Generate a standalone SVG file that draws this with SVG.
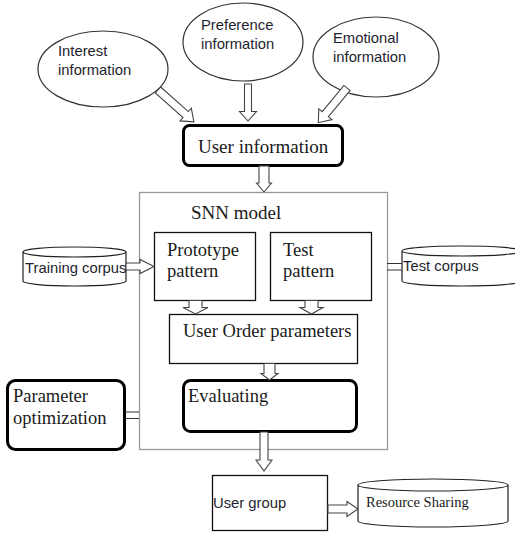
<svg xmlns="http://www.w3.org/2000/svg" width="515" height="534" viewBox="0 0 515 534">
<style>
.bg{fill:#fff}
.ell{fill:#fff;stroke:#333;stroke-width:1.2}
.box{fill:#fff;stroke:#111;stroke-width:1.3}
.thick{fill:#fff;stroke:#000;stroke-width:3}
.frame{fill:none;stroke:#999;stroke-width:1.3}
.cyl{fill:#fff;stroke:#222;stroke-width:1.2}
.arr{fill:#fff;stroke:#444;stroke-width:1.1}
.dl{stroke:#333;stroke-width:1.2;fill:none}
.sans{font-family:"Liberation Sans",Arial,sans-serif;font-size:14.8px;fill:#1e1e2e}
.serif{font-family:"Liberation Serif","Times New Roman",serif;font-size:18.5px;fill:#1a1a1a}
.big{font-size:19px}
</style>
<rect class="bg" x="0" y="0" width="515" height="534"/>

<g id="snn-frame">
<rect class="frame" x="139.5" y="192.5" width="248" height="257"/>
<text class="serif big" x="191" y="219">SNN model</text>
</g>

<g id="interest">
<ellipse class="ell" cx="103" cy="69" rx="65" ry="38"/>
<text class="sans" x="58" y="56">Interest</text>
<text class="sans" x="58" y="75">information</text>
</g>
<g id="preference">
<ellipse class="ell" cx="243" cy="42" rx="60" ry="39"/>
<text class="sans" x="201" y="30">Preference</text>
<text class="sans" x="201" y="49">information</text>
</g>
<g id="emotional">
<ellipse class="ell" cx="376" cy="57" rx="63" ry="40"/>
<text class="sans" x="333" y="43">Emotional</text>
<text class="sans" x="333" y="62">information</text>
</g>

<g id="user-information">
<rect class="thick" x="183.5" y="125.5" width="159" height="40" rx="6"/>
<text class="serif big" x="198" y="153">User information</text>
</g>

<g id="prototype-pattern">
<rect class="box" x="154.5" y="232.5" width="101" height="68"/>
<text class="serif" x="167" y="256">Prototype</text>
<text class="serif" x="167" y="277">pattern</text>
</g>
<g id="test-pattern">
<rect class="box" x="270.5" y="232.5" width="101" height="68"/>
<text class="serif" x="283" y="256">Test</text>
<text class="serif" x="283" y="277">pattern</text>
</g>
<g id="user-order-parameters">
<rect class="box" x="169.5" y="314.5" width="188" height="49"/>
<text class="serif" x="183" y="337">User Order parameters</text>
</g>
<g id="evaluating">
<rect class="thick" x="183.5" y="380.5" width="173" height="51" rx="7"/>
<text class="serif" x="188" y="402">Evaluating</text>
</g>
<g id="parameter-optimization">
<rect class="thick" x="7.5" y="380.5" width="117" height="69" rx="8"/>
<text class="serif" x="13" y="402">Parameter</text>
<text class="serif" x="13" y="424">optimization</text>
</g>

<g id="training-corpus">
<path class="cyl" d="M23,252 A51.5,5 0 0 1 126,252 L126,281 A51.5,5 0 0 1 23,281 Z M23,252 A51.5,5 0 0 0 126,252"/>
<text class="sans" x="25" y="273">Training corpus</text>
</g>
<g id="test-corpus">
<path class="cyl" d="M402,251 A60,5 0 0 1 522,251 L522,281 A60,5 0 0 1 402,281 Z M402,251 A60,5 0 0 0 522,251"/>
<text class="sans" x="403" y="271">Test corpus</text>
</g>

<g id="user-group">
<rect class="box" x="212.5" y="475.5" width="115" height="55"/>
<text class="sans" x="213" y="508">User group</text>
</g>
<g id="resource-sharing">
<path class="cyl" d="M358,485 A75,6 0 0 1 508,485 L508,521 A75,6 0 0 1 358,521 Z M358,485 A75,6 0 0 0 508,485"/>
<text class="serif" style="font-size:14.5px" x="366" y="507">Resource Sharing</text>
</g>

<g id="connectors">
<!-- Interest -> User information -->
<polygon class="arr" transform="translate(158,90) rotate(41.6)" points="0,-4 37,-4 37,-8.5 48,0 37,8.5 37,4 0,4"/>
<!-- Preference -> User information -->
<polygon class="arr" points="244.5,84 251.5,84 251.5,111.5 256.5,111.5 248,121 239.5,111.5 244.5,111.5"/>
<!-- Emotional -> User information -->
<polygon class="arr" transform="translate(347,88) rotate(129.6)" points="0,-4 34,-4 34,-8.5 45,0 34,8.5 34,4 0,4"/>
<!-- User information -> SNN model -->
<polygon class="arr" points="259,166 269,166 269,183 271.5,183 264,192 256.5,183 259,183"/>
<!-- Training corpus -> Prototype -->
<polygon class="arr" points="126,263 140,263 140,259.5 154,266.5 140,273.5 140,270 126,270"/>
<!-- Test corpus = SNN model -->
<path class="dl" d="M387,263.5 H402 M387,270 H402"/>
<!-- Prototype -> User Order -->
<polygon class="arr" points="189,300.5 202,300.5 202,307.5 208,307.5 195.5,314 183,307.5 189,307.5"/>
<!-- Test -> User Order -->
<polygon class="arr" points="305,300.5 318,300.5 318,307.5 323,307.5 311.5,314 300,307.5 305,307.5"/>
<!-- User Order -> Evaluating -->
<polygon class="arr" points="264,363.5 275,363.5 275,373.5 278,373.5 269.5,380 261,373.5 264,373.5"/>
<!-- Parameter optimization = SNN model -->
<path class="dl" d="M125,412 H139 M125,418.5 H139"/>
<!-- Evaluating -> User group -->
<polygon class="arr" points="260,432 268,432 268,460 272,460 264,471 256,460 260,460"/>
<!-- User group -> Resource Sharing -->
<polygon class="arr" points="328,505 347,505 347,501.5 358,509 347,516.5 347,513 328,513"/>
</g>
</svg>
